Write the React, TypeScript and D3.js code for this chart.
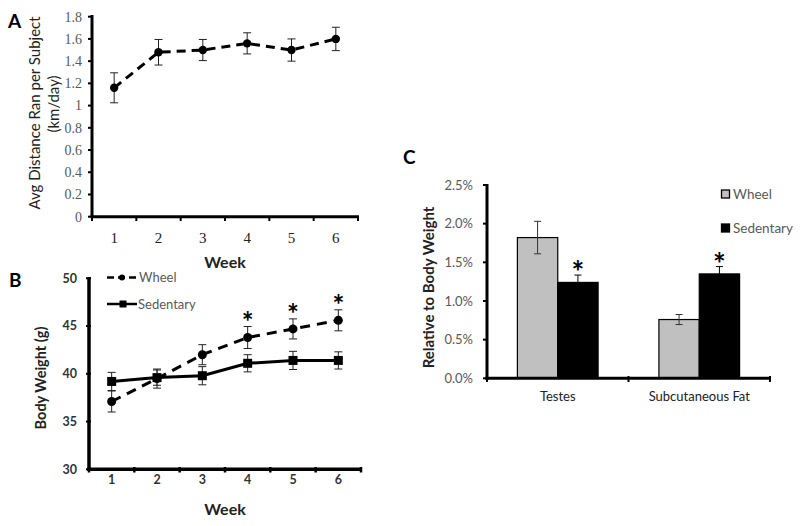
import React from "react";
import * as d3 from "d3";

// ---------- DATA ----------
const weeks = ["1", "2", "3", "4", "5", "6"];
const distanceMean = [1.16, 1.48, 1.5, 1.56, 1.5, 1.6];
const distanceErr = [0.135, 0.115, 0.095, 0.095, 0.1, 0.105];
const distanceTicks = [0, 0.2, 0.4, 0.6, 0.8, 1, 1.2, 1.4, 1.6, 1.8];

const wheelWeight = [37.1, 39.5, 42.0, 43.8, 44.7, 45.6];
const wheelWeightErr = [1.1, 1.0, 1.05, 1.15, 1.05, 1.1];
const sedentaryWeight = [39.2, 39.6, 39.8, 41.1, 41.4, 41.4];
const sedentaryWeightErr = [0.95, 0.8, 0.95, 0.9, 0.95, 0.9];
const weightTicks = [30, 35, 40, 45, 50];
const weightSignificant = [false, false, false, true, true, true];

const tissues = ["Testes", "Subcutaneous Fat"];
const groups = ["Wheel", "Sedentary"];
const wheelPct = [1.82, 0.76];
const wheelPctErr = [0.21, 0.065];
const sedentaryPct = [1.24, 1.35];
const sedentaryPctErr = [0.095, 0.095];
const pctSignificant = [true, true];
const pctTicks = [0, 0.5, 1.0, 1.5, 2.0, 2.5];

const SANS = "Lato, 'Open Sans', sans-serif";
const SERIF = "'Liberation Serif', 'DejaVu Serif', serif";
const GREY = "#595959";

function ErrBar({ x, y1, y2, cap = 4, color = "#222" }: any) {
  return (
    <g stroke={color} strokeWidth={1}>
      <line x1={x} x2={x} y1={y1} y2={y2} />
      <line x1={x - cap} x2={x + cap} y1={y1} y2={y1} />
      <line x1={x - cap} x2={x + cap} y1={y2} y2={y2} />
    </g>
  );
}

function PanelA() {
  const x = d3.scaleBand<string>().domain(weeks).range([92, 358]);
  const y = d3.scaleLinear().domain([0, 1.8]).range([216.7, 16.7]);
  const cx = (w: string) => (x(w) as number) + x.bandwidth() / 2;
  const line = d3
    .line<number>()
    .x((_, i) => cx(weeks[i]))
    .y((d) => y(d));
  const tickXs = [...weeks.map((w) => x(w) as number), 358];
  return (
    <g>
      <text x={8} y={28} fontFamily={SANS} fontWeight="bold" fontSize={19}>A</text>
      {distanceTicks.map((t) => (
        <g key={t}>
          <line x1={88} x2={92} y1={y(t)} y2={y(t)} stroke="#000" strokeWidth={2} />
          <text x={82} y={y(t)} dy="0.35em" textAnchor="end" fontFamily={SERIF} fontSize={14} fill={GREY}>
            {String(t)}
          </text>
        </g>
      ))}
      {tickXs.map((t, i) => (
        <line key={i} x1={t} x2={t} y1={216.7} y2={221} stroke="#000" strokeWidth={2} />
      ))}
      <line x1={92} x2={92} y1={15} y2={218} stroke="#000" strokeWidth={3} />
      <line x1={90.5} x2={359} y1={216.7} y2={216.7} stroke="#000" strokeWidth={3} />
      {weeks.map((w) => (
        <text key={w} x={cx(w)} y={243} textAnchor="middle" fontFamily={SERIF} fontSize={15} fill="#222">
          {w}
        </text>
      ))}
      <text x={225} y={268} textAnchor="middle" fontFamily={SANS} fontWeight="bold" fontSize={16} fill="#222">Week</text>
      <text transform="translate(40,113) rotate(-90)" textAnchor="middle" fontFamily={SANS} fontSize={15} fill="#222">
        Avg Distance Ran per Subject
      </text>
      <text transform="translate(59,104) rotate(-90)" textAnchor="middle" fontFamily={SANS} fontSize={15} fill="#222">
        (km/day)
      </text>
      <path d={line(distanceMean) as string} fill="none" stroke="#000" strokeWidth={3} strokeDasharray="9,6" />
      {distanceMean.map((v, i) => (
        <g key={i}>
          <ErrBar x={cx(weeks[i])} y1={y(v + distanceErr[i])} y2={y(v - distanceErr[i])} />
          <circle cx={cx(weeks[i])} cy={y(v)} r={4.2} fill="#000" />
        </g>
      ))}
    </g>
  );
}

function PanelB() {
  const x = d3.scaleBand<string>().domain(weeks).range([89, 361]);
  const y = d3.scaleLinear().domain([30, 50]).range([469.3, 278.3]);
  const cx = (w: string) => (x(w) as number) + x.bandwidth() / 2;
  const line = d3
    .line<number>()
    .x((_, i) => cx(weeks[i]))
    .y((d) => y(d));
  const tickXs = [...weeks.map((w) => x(w) as number), 361];
  return (
    <g>
      <text x={9} y={287} fontFamily={SANS} fontWeight="bold" fontSize={19}>B</text>
      {weightTicks.map((t) => (
        <g key={t}>
          <line x1={86} x2={91} y1={y(t)} y2={y(t)} stroke="#000" strokeWidth={2} />
          <text x={77} y={y(t)} dy="0.35em" textAnchor="end" fontFamily={SANS} fontWeight="bold" fontSize={12.5} fill="#333">
            {t}
          </text>
        </g>
      ))}
      {tickXs.map((t, i) => (
        <line key={i} x1={t} x2={t} y1={467} y2={472.5} stroke="#000" strokeWidth={2.5} />
      ))}
      <line x1={89} x2={89} y1={277} y2={471} stroke="#000" strokeWidth={3.5} />
      <line x1={87.5} x2={362} y1={469.3} y2={469.3} stroke="#000" strokeWidth={3.5} />
      {weeks.map((w) => (
        <text key={w} x={cx(w)} y={484} textAnchor="middle" fontFamily={SANS} fontWeight="bold" fontSize={12.5} fill="#333">
          {w}
        </text>
      ))}
      <text x={225} y={515} textAnchor="middle" fontFamily={SANS} fontWeight="bold" fontSize={16} fill="#222">Week</text>
      <text transform="translate(46,378) rotate(-90)" textAnchor="middle" fontFamily={SANS} fontWeight="bold" fontSize={14.5} fill="#222">
        Body Weight (g)
      </text>
      {/* legend */}
      <line x1={107} x2={136} y1={277.5} y2={277.5} stroke="#000" strokeWidth={2.5} strokeDasharray="7,4" />
      <circle cx={122} cy={277.5} r={3} fill="#000" />
      <text x={139} y={277.5} dy="0.35em" fontFamily={SANS} fontSize={13} fill={GREY}>Wheel</text>
      <line x1={107} x2={137} y1={304} y2={304} stroke="#000" strokeWidth={2.5} />
      <rect x={119.5} y={300.5} width={7} height={7} fill="#000" />
      <text x={138} y={304} dy="0.35em" fontFamily={SANS} fontSize={13} fill={GREY}>Sedentary</text>

      <path d={line(sedentaryWeight) as string} fill="none" stroke="#000" strokeWidth={3} />
      <path d={line(wheelWeight) as string} fill="none" stroke="#000" strokeWidth={3} strokeDasharray="10,7" />
      {sedentaryWeight.map((v, i) => (
        <g key={"s" + i}>
          <ErrBar x={cx(weeks[i])} y1={y(v + sedentaryWeightErr[i])} y2={y(v - sedentaryWeightErr[i])} />
          <rect x={cx(weeks[i]) - 4.5} y={y(v) - 4.5} width={9} height={9} fill="#000" />
        </g>
      ))}
      {wheelWeight.map((v, i) => (
        <g key={"w" + i}>
          <ErrBar x={cx(weeks[i])} y1={y(v + wheelWeightErr[i])} y2={y(v - wheelWeightErr[i])} />
          <circle cx={cx(weeks[i])} cy={y(v)} r={4.5} fill="#000" />
          {weightSignificant[i] && (
            <text x={cx(weeks[i])} y={y(v + wheelWeightErr[i]) + 5} textAnchor="middle" fontFamily={SANS} fontWeight="bold" fontSize={28} fill="#000">
              *
            </text>
          )}
        </g>
      ))}
    </g>
  );
}

function PanelC() {
  const x = d3.scaleBand<string>().domain(tissues).range([487, 770]);
  const sub = d3.scaleBand<string>().domain(groups).range([0, 80.7]);
  const y = d3.scaleLinear().domain([0, 2.5]).range([378.3, 185]);
  const gx = (t: string) => (x(t) as number) + (x.bandwidth() - 80.7) / 2;
  const series = [
    { name: "Wheel", vals: wheelPct, errs: wheelPctErr, fill: "#c0c0c0", sig: [false, false] },
    { name: "Sedentary", vals: sedentaryPct, errs: sedentaryPctErr, fill: "#000", sig: pctSignificant },
  ];
  const tickXs = [...tissues.map((t) => x(t) as number), 770];
  return (
    <g>
      <text x={403} y={164} fontFamily={SANS} fontWeight="bold" fontSize={19}>C</text>
      {pctTicks.map((t) => (
        <g key={t}>
          <line x1={483} x2={488} y1={y(t)} y2={y(t)} stroke="#000" strokeWidth={2} />
          <text x={473} y={y(t)} dy="0.35em" textAnchor="end" fontFamily={SANS} fontSize={13} fill={GREY}>
            {t.toFixed(1)}%
          </text>
        </g>
      ))}
      {tickXs.map((t, i) => (
        <line key={i} x1={t} x2={t} y1={376} y2={382} stroke="#000" strokeWidth={2} />
      ))}
      {series.map((s) =>
        tissues.map((t, i) => {
          const bx = gx(t) + (sub(s.name) as number);
          const bw = sub.bandwidth();
          const cxm = bx + bw / 2;
          return (
            <g key={s.name + t}>
              <rect x={bx} y={y(s.vals[i])} width={bw} height={378.3 - y(s.vals[i])} fill={s.fill} stroke="#000" strokeWidth={1.2} />
              <ErrBar x={cxm} y1={y(s.vals[i] + s.errs[i])} y2={y(s.vals[i] - s.errs[i])} cap={3.5} color={s.name === "Wheel" ? "#333" : "#000"} />
              {s.sig[i] && (
                <text x={cxm} y={y(s.vals[i] + s.errs[i]) + 8} textAnchor="middle" fontFamily={SANS} fontWeight="bold" fontSize={30} fill="#000">
                  *
                </text>
              )}
            </g>
          );
        })
      )}
      <line x1={487} x2={487} y1={184} y2={380} stroke="#000" strokeWidth={3} />
      <line x1={485.5} x2={771} y1={378.3} y2={378.3} stroke="#000" strokeWidth={3} />
      {tissues.map((t) => (
        <text key={t} x={(x(t) as number) + x.bandwidth() / 2} y={401} textAnchor="middle" fontFamily={SANS} fontSize={13} fill="#222">
          {t}
        </text>
      ))}
      <text transform="translate(434,287.5) rotate(-90)" textAnchor="middle" fontFamily={SANS} fontWeight="bold" fontSize={15} fill="#222">
        Relative to Body Weight
      </text>
      {series.map((s, i) => (
        <g key={"lg" + s.name}>
          <rect x={721.5} y={190 + i * 34} width={8} height={8} fill={s.fill} stroke="#000" strokeWidth={1.3} />
          <text x={733} y={194 + i * 34} dy="0.35em" fontFamily={SANS} fontSize={13.5} fill={GREY}>
            {s.name}
          </text>
        </g>
      ))}
    </g>
  );
}

export default function App() {
  return (
    <svg
      width={800}
      height={526}
      viewBox="0 0 800 526"
      style={{ position: "absolute", left: 0, top: 0, background: "#fff" }}
    >
      <rect width={800} height={526} fill="#fff" />
      <PanelA />
      <PanelB />
      <PanelC />
    </svg>
  );
}
